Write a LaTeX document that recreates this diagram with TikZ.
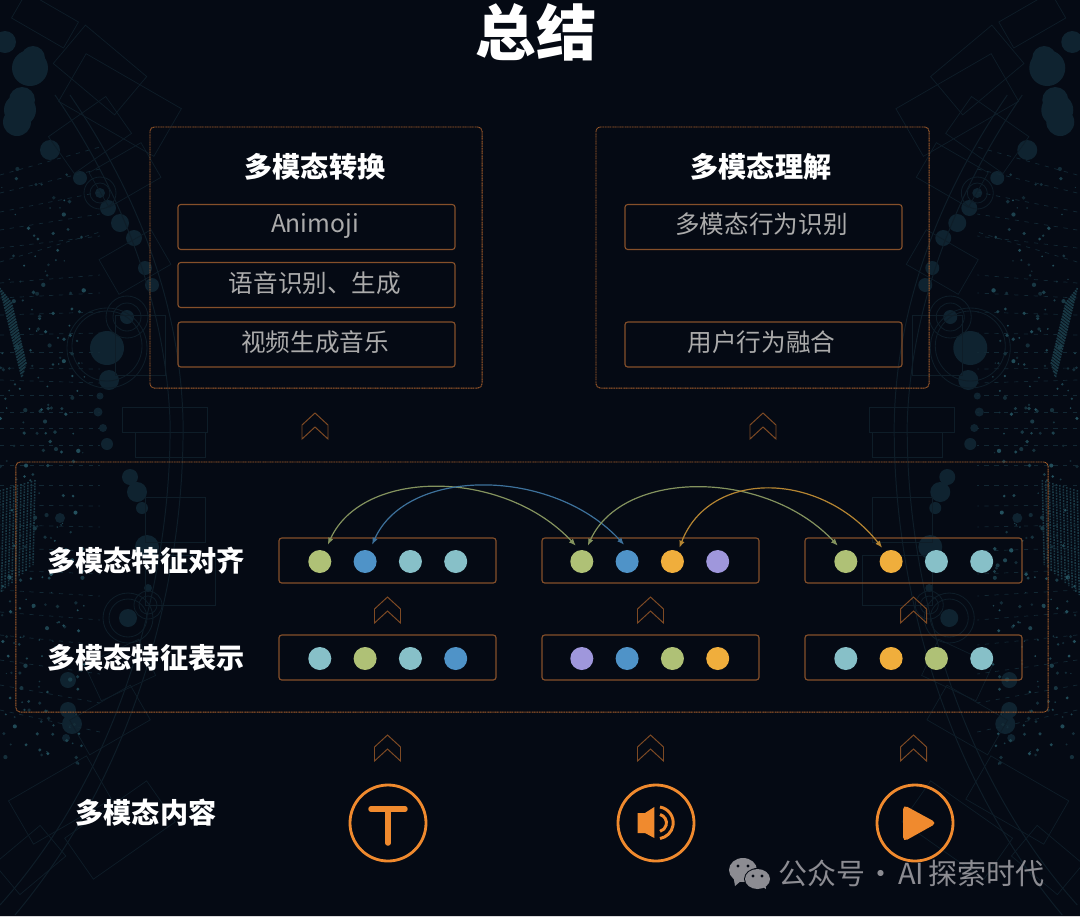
\documentclass[tikz,border=0pt]{standalone}
\usepackage{fontspec}
\setmainfont{Noto Sans CJK SC}
\usetikzlibrary{positioning,arrows.meta,calc}
\definecolor{pbg}{HTML}{050A14}
\definecolor{pwire}{HTML}{0E1D28}
\definecolor{pblob}{HTML}{0F2330}
\definecolor{pspot}{HTML}{24525F}
\definecolor{pframe}{HTML}{A8602C}
\definecolor{pedge}{HTML}{86502A}
\definecolor{pchev}{HTML}{7E4A24}
\definecolor{porange}{HTML}{F08A2E}
\definecolor{pitem}{HTML}{ABABAB}
\definecolor{pmark}{HTML}{8C8C92}
\definecolor{dgreen}{HTML}{AFC176}
\definecolor{dblue}{HTML}{4F93C8}
\definecolor{dteal}{HTML}{87C0C8}
\definecolor{dgold}{HTML}{F0AE3C}
\definecolor{dviolet}{HTML}{9F97DC}
\newcommand{\bgdeco}{%
  % blobs and rings
  \foreach \bx/\by/\br in {5/42/11,30/68/18,33/58/12,22/100/13,20/110/16,17/122/14,50/150/10,80/178/7,100/193/5,108/208/8,120/223/9,134/238/8,145/268/7,152/285/7,107/348/17,109/380/10,127/317/7,100/396/3.5,98/412/4.5,103/428/4,107/444/6,130/477/8,137/492/10,142/508/6,60/518/5,147/547/12,128/618/9,148/588/4,68/680/8,68/710/8,72/724/10,66/738/4}
    \fill[pblob] (\bx,\by) circle (\br);
  \foreach \bx/\by/\br in {107/348/40,107/346/35,127/317/14,127/317/21,100/193/10,100/193/16,128/618/25,128/618/19,148/605/9,148/605/14}
    \draw[pwire,line width=.6pt] (\bx,\by) circle (\br);
  % wire frames
  \foreach \bx/\by/\bw/\bh/\ba in {45/20/60/30/-30,100/70/80/50/-40,120/105/110/55/-30,90/135/70/45/35,125/175/60/40/30,135/262/60/40/30,140/345/50/60/0,165/420/85/25/0,170/445/70/25/0,175/520/60/45/0,180/580/70/50/0,110/720/70/40/30,120/670/60/40/25,60/800/90/50/30,120/830/100/50/35,30/860/60/40/40}
    \draw[pwire,line width=.5pt,rotate around={\ba:(\bx,\by)}] (\bx-\bw/2,\by-\bh/2) rectangle (\bx+\bw/2,\by+\bh/2);
  % sweeping arcs
  \draw[pwire,line width=.7pt] (55,95) .. controls (120,190) and (165,300) .. (170,420) .. controls (172,560) and (130,760) .. (0,905);
  \draw[pwire,line width=.7pt] (70,95) .. controls (135,190) and (180,300) .. (183,420) .. controls (185,560) and (145,760) .. (15,915);
  % dashed rows of the dot field
  \foreach \by/\bs in {175/-28,193/-24,212/-20,230/-16,248/-12,262/-30,283/-8,298/-5,315/-3,335/-2,352/0,368/1,380/3,395/0,412/0,428/0,445/0,465/0,485/0,505/1,525/2,548/3,570/4,590/6,612/8,635/10,660/14,685/18,710/22}
    \draw[pspot!42!pbg,line width=.5pt,dash pattern=on 3pt off 4pt] (0,\by) -- (100,\by+\bs);
  % dots of the field
  \pgfmathsetseed{4217}
  \foreach \bi in {1,...,230}{
    \pgfmathsetmacro{\bx}{rnd*85}
    \pgfmathsetmacro{\by}{165+rnd*600}
    \pgfmathsetmacro{\br}{.7+rnd*1.5}
    \pgfmathtruncatemacro{\bt}{40+rnd*60}
    \fill[pspot!\bt!pbg] (\bx,\by) circle (\br);
  }
  % lattice bands at the border
  \foreach \bi in {0,...,7}
    \draw[pspot!65!pbg,line width=1.1pt,dash pattern=on 1.2pt off .8pt] (\bi*1.6,288+\bi*2) -- (22+\bi*.6,378-\bi*2);
  \foreach \bi in {0,...,10}
    \draw[pspot!65!pbg,line width=1.1pt,dash pattern=on 1.2pt off .8pt] (\bi*3.5,490-\bi) -- (\bi*3.5-2,595-\bi*3);
}
\begin{document}
\begin{tikzpicture}[x=0.025cm,y=-0.025cm,font=\normalsize,>=Latex,
  heading/.style={text=white,font=\fontsize{20pt}{22pt}\selectfont\bfseries},
  outerbox/.style={draw=pframe,line width=.65pt,dash pattern=on .8pt off .4pt,rounded corners=3pt,inner sep=0pt},
  itembox/.style={draw=pedge,line width=.8pt,rounded corners=2pt,minimum width=6.925cm,minimum height=1.125cm,inner sep=0pt},
  itemtext/.style={text=pitem,font=\fontsize{17.5pt}{19pt}\selectfont},
  rowbox/.style={draw=pedge,line width=.8pt,rounded corners=2pt,minimum width=5.425cm,minimum height=1.125cm,inner sep=0pt},
  dot/.style={circle,fill=#1,minimum size=.575cm,inner sep=0pt},
  link/.style={line width=.85pt,draw=#1!75!pbg,{Latex[length=5pt,width=4pt]}-{Latex[length=5pt,width=4pt]}},
  ring/.style={circle,draw=porange,line width=2pt,minimum size=1.9cm,inner sep=0pt},
  chev/.pic={\draw[pchev,line width=.7pt] (-13,26) -- (-13,12) -- (0,0) -- (13,12) -- (13,26) -- (0,14) -- cycle;}]
  \useasboundingbox (0,0) rectangle (1080,917);
  \fill[pbg] (0,0) rectangle (1080,917);
  \fill[white!85!pbg] (0,915.5) rectangle (1080,917);

  % background texture, left and mirrored
  \begin{scope}\bgdeco\end{scope}
  \begin{scope}[xshift=26.925cm,xscale=-1]\bgdeco\end{scope}

  \node[text=white,font=\fontsize{43pt}{46pt}\selectfont\bfseries] (title) at (536,32) {总结};

  % ---------------- top: the two applications ----------------
  \node[outerbox,minimum width=8.3cm,minimum height=6.525cm] (convert) at (316,257.5) {};
  \node[heading] (converthead) at (315,167) {多模态转换};
  \node[itembox] (animoji) at (316.5,227) {};
  \node[itembox] (speech) at (316.5,285) {};
  \node[itembox] (music) at (316.5,344.5) {};
  \node[itemtext] at (315,226) {Animoji};
  \node[itemtext] at (315,283) {语音识别、生成};
  \node[itemtext] at (315,342.5) {视频生成音乐};

  \node[outerbox,minimum width=8.325cm,minimum height=6.525cm] (understand) at (762.5,257.5) {};
  \node[heading] (understandhead) at (761,167) {多模态理解};
  \node[itembox] (action) at (763.5,227) {};
  \node[itembox] (fusion) at (763.5,344.5) {};
  \node[itemtext] at (761.5,224.5) {多模态行为识别};
  \node[itemtext] at (761.5,342.5) {用户行为融合};

  \foreach \cx in {315,763} \pic at (\cx,413) {chev};

  % ---------------- middle: features ----------------
  \node[outerbox,minimum width=25.8cm,minimum height=6.25cm] (features) at (532,587) {};
  \node[heading] (alignlabel) at (146,561) {多模态特征对齐};
  \node[heading] (reprlabel) at (146,658) {多模态特征表示};

  \node[rowbox] (alignA) at (387.5,560.5) {};
  \node[rowbox] (alignB) at (650.5,560.5) {};
  \node[rowbox] (alignC) at (913.5,560.5) {};
  \node[rowbox] (reprA) at (387.5,657.5) {};
  \node[rowbox] (reprB) at (650.5,657.5) {};
  \node[rowbox] (reprC) at (913.5,657.5) {};

  \foreach \n/\c [count=\i] in {alignAa/dgreen,alignAb/dblue,alignAc/dteal,alignAd/dteal}
    \node[dot=\c] (\n) at (274.5+45.3*\i,561.5) {};
  \foreach \n/\c [count=\i] in {alignBa/dgreen,alignBb/dblue,alignBc/dgold,alignBd/dviolet}
    \node[dot=\c] (\n) at (536.5+45.3*\i,561.5) {};
  \foreach \n/\c [count=\i] in {alignCa/dgreen,alignCb/dgold,alignCc/dteal,alignCd/dteal}
    \node[dot=\c] (\n) at (800.5+45.3*\i,561.5) {};
  \foreach \n/\c [count=\i] in {reprAa/dteal,reprAb/dgreen,reprAc/dteal,reprAd/dblue}
    \node[dot=\c] (\n) at (274.5+45.3*\i,658.5) {};
  \foreach \n/\c [count=\i] in {reprBa/dviolet,reprBb/dblue,reprBc/dgreen,reprBd/dgold}
    \node[dot=\c] (\n) at (536.5+45.3*\i,658.5) {};
  \foreach \n/\c [count=\i] in {reprCa/dteal,reprCb/dgold,reprCc/dgreen,reprCd/dteal}
    \node[dot=\c] (\n) at (800.5+45.3*\i,658.5) {};

  % alignment links over the rows
  \draw[link=dgreen] ([shift={(8,-5)}]alignAa.north) .. controls +(35,-77) and +(-72,-77) .. ([shift={(-6,-4)}]alignBa.north);
  \draw[link=dblue] ([shift={(7,-5)}]alignAb.north) .. controls +(35,-78) and +(-72,-78) .. ([shift={(-3,-5)}]alignBb.north);
  \draw[link=dgreen] ([shift={(6,-4)}]alignBa.north) .. controls +(35,-77) and +(-72,-77) .. ([shift={(-8,-4)}]alignCa.north);
  \draw[link=dgold] ([shift={(7,-2)}]alignBc.north) .. controls +(30,-78) and +(-62,-78) .. ([shift={(-9,-2)}]alignCb.north);

  \foreach \cx in {387.5,650.5,913.5} \pic at (\cx,597) {chev};
  \foreach \cx in {387.5,650.5,913.5} \pic at (\cx,735) {chev};

  % ---------------- bottom: content ----------------
  \node[heading] (contentlabel) at (146,813) {多模态内容};
  \node[ring] (textring) at (388,823) {};
  \node[ring] (audioring) at (656,823) {};
  \node[ring] (videoring) at (915,823) {};

  \draw[porange,line width=3.9pt,line cap=round] (371,809) -- (405,809);
  \draw[porange,line width=3.9pt,line cap=round] (388,809) -- (388,843);

  \fill[porange] (637.7,813) -- (645,813) -- (654.3,807) -- (654.3,838) -- (645,833) -- (637.7,833) -- cycle;
  \draw[porange,line width=2.1pt] (660,814.5) arc[start angle=-75,end angle=75,radius=8.7];
  \draw[porange,line width=2.1pt] (660,807) arc[start angle=-80,end angle=80,radius=16];

  \fill[porange,rounded corners=3.5pt] (903,804.5) -- (903,842) -- (937,823) -- cycle;

  % watermark
  \fill[pmark] (743,870) ellipse (14 and 12);
  \fill[pmark] (733.5,877) -- (735,886) -- (742,880) -- cycle;
  \fill[pbg] (757.5,879) ellipse (13.5 and 11);
  \fill[pmark] (757.5,879) ellipse (12.5 and 10);
  \fill[pmark] (761,886) -- (766,889) -- (765,882) -- cycle;
  \foreach \ex/\ey in {738/866,748/866,753/876,762/876}
    \fill[pbg] (\ex,\ey) circle (1.6);
  \node[anchor=west,inner sep=0pt,text=pmark,font=\fontsize{20.6pt}{22pt}\selectfont] (mark) at (778,873) {公众号\hspace{1pt}·\hspace{1.8pt}AI\hspace{3pt}探索时代};
\end{tikzpicture}
\end{document}
